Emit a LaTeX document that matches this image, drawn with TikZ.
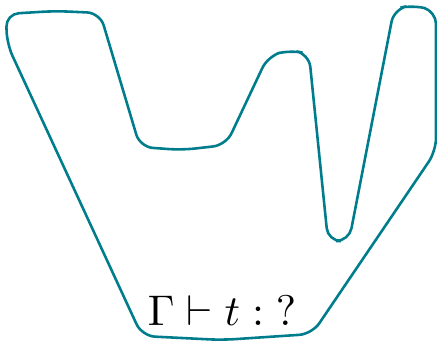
\documentclass[tikz,border=0pt]{standalone}
\usepackage{amsmath}
\usepackage{amssymb}
\usetikzlibrary{positioning}
\definecolor{regionteal}{RGB}{0,125,140}
\tikzset{region/.style={draw=regionteal,line width=0.6pt,rounded corners=3pt}}

\begin{document}
\begin{tikzpicture}[x=0.233pt,y=-0.233pt]
\useasboundingbox (0,0) rectangle (437,343);
% outline of the region
\draw[region] (55,11) -- (100,13) -- (140,147) -- (182,150) -- (226,145)
  -- (268,56) -- (290,50) -- (309,54) -- (328,241) -- (349,241)
  -- (394,9) -- (413,5) -- (436,11) -- (436,151) -- (312,334)
  -- (222,340) -- (142,336) -- (7,44) -- (6,14) -- cycle;
\node[anchor=base] (judg) at (222,325) {$\Gamma \vdash t : {?}$};
\end{tikzpicture}
\end{document}
